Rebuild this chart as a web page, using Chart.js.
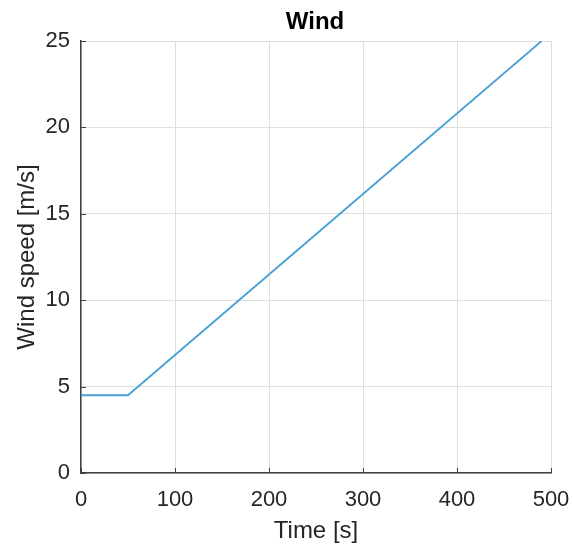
<!DOCTYPE html>
<html>
<head>
<meta charset="utf-8">
<script src="https://cdn.jsdelivr.net/npm/chart.js@4"></script>
<style>
  html, body { margin: 0; padding: 0; background: #fff; }
  #wrap { width: 573px; height: 545px; }
</style>
</head>
<body>
<div id="wrap"><canvas id="wind-chart" width="573" height="545"></canvas></div>
<script>
// Wind speed profile
const timeSec = [0, 50, 490];
const windSpeed = [4.5, 4.5, 25];
const xTicks = [0, 100, 200, 300, 400, 500];
const yTicks = [0, 5, 10, 15, 20, 25];

const FONT = "'Liberation Sans', Arial, Helvetica, sans-serif";
const TEXT = '#262626';

// Title centered over the plot area, MATLAB style
const titlePlugin = {
  id: 'plotTitle',
  afterDraw(chart) {
    const { ctx, chartArea } = chart;
    ctx.save();
    ctx.font = 'bold 24px ' + FONT;
    ctx.fillStyle = '#000';
    ctx.textAlign = 'center';
    ctx.textBaseline = 'alphabetic';
    ctx.fillText('Wind', (chartArea.left + chartArea.right) / 2 - 1, 29);
    ctx.restore();
  },
};

// Inward tick marks on left and bottom axes
const innerTicks = {
  id: 'innerTicks',
  afterDraw(chart) {
    const { ctx, chartArea, scales } = chart;
    ctx.save();
    ctx.strokeStyle = '#404040';
    ctx.lineWidth = 1;
    ctx.beginPath();
    xTicks.forEach(v => {
      const px = Math.round(scales.x.getPixelForValue(v)) + 0.5;
      ctx.moveTo(px, chartArea.bottom);
      ctx.lineTo(px, chartArea.bottom - 5);
    });
    yTicks.forEach(v => {
      const py = Math.round(scales.y.getPixelForValue(v)) + 0.5;
      ctx.moveTo(chartArea.left, py);
      ctx.lineTo(chartArea.left + 5, py);
    });
    ctx.stroke();
    ctx.restore();
  },
};

new Chart(document.getElementById('wind-chart'), {
  type: 'line',
  data: {
    datasets: [
      {
        label: 'Wind',
        data: timeSec.map((t, i) => ({ x: t, y: windSpeed[i] })),
        borderColor: '#4a9fd8',
        borderWidth: 1.8,
        pointRadius: 0,
        tension: 0,
        fill: false,
      },
    ],
  },
  options: {
    responsive: false,
    animation: false,
    layout: { padding: { top: 41, right: 22, left: 0, bottom: 0 } },
    plugins: {
      legend: { display: false },
      tooltip: { enabled: false },
    },
    scales: {
      x: {
        type: 'linear',
        min: 0,
        max: 500,
        afterFit: scale => {
          scale.height = 72;
          scale.paddingLeft = 0;
          scale.paddingRight = 0;
        },
        afterBuildTicks: scale => { scale.ticks = xTicks.map(v => ({ value: v })); },
        grid: { color: '#dfdfdf', lineWidth: 1, drawTicks: false },
        border: { color: '#404040', width: 1.5 },
        ticks: {
          padding: 14,
          color: TEXT,
          font: { family: FONT, size: 22 },
          maxRotation: 0,
        },
        title: {
          display: true,
          text: 'Time [s]',
          color: TEXT,
          font: { family: FONT, size: 24, lineHeight: 1.2 },
          padding: { top: 0, bottom: -1 },
        },
      },
      y: {
        min: 0,
        max: 25,
        afterFit: scale => {
          scale.width = 81;
          scale.paddingTop = 0;
          scale.paddingBottom = 0;
        },
        afterBuildTicks: scale => { scale.ticks = yTicks.map(v => ({ value: v })); },
        grid: { color: '#dfdfdf', lineWidth: 1, drawTicks: false },
        border: { color: '#404040', width: 1.5 },
        ticks: {
          padding: 11,
          color: TEXT,
          font: { family: FONT, size: 22 },
        },
        title: {
          display: true,
          text: 'Wind speed [m/s]',
          color: TEXT,
          font: { family: FONT, size: 24, lineHeight: 1.2 },
          padding: { top: 13, bottom: 0 },
        },
      },
    },
  },
  plugins: [titlePlugin, innerTicks],
});
</script>
</body>
</html>
